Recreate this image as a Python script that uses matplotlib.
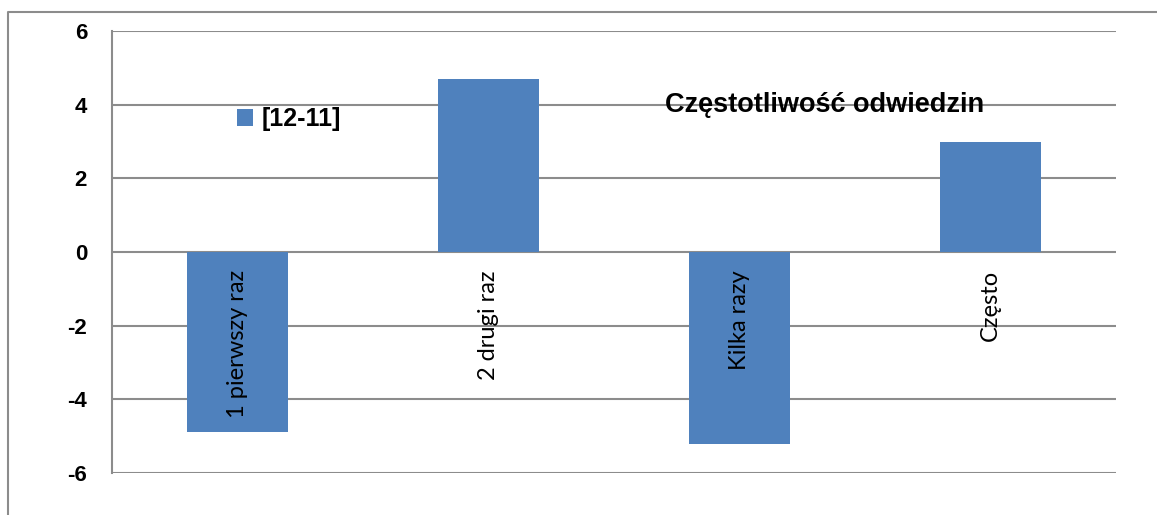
import matplotlib
matplotlib.use('Agg')
import matplotlib.pyplot as plt
from matplotlib.lines import Line2D

plt.rcParams['font.family'] = ['Liberation Sans', 'DejaVu Sans']

# data
categories = ['1 pierwszy raz', '2 drugi raz', 'Kilka razy', 'Często']
values = [-4.9, 4.7, -5.2, 3.0]
series_name = '[12-11]'
title = 'Częstotliwość odwiedzin'
yticks = [-6, -4, -2, 0, 2, 4, 6]

bar_color = '#4F81BD'
grid_color = '#8C8C8C'

fig = plt.figure(figsize=(11.57, 5.15), dpi=100)
ax = fig.add_axes([112 / 1157, 1 - 473 / 515, 1004 / 1157, 442 / 515])

x = list(range(len(categories)))
ax.bar(x, values, width=0.4, color=bar_color, label=series_name, zorder=2)

ax.set_xlim(-0.5, len(categories) - 0.5)
ax.set_ylim(-6, 6)
ax.set_yticks(yticks)
ax.set_yticklabels([str(v) for v in yticks], fontsize=16, fontweight='bold')
ax.tick_params(axis='y', length=0, pad=18)
ax.set_xticks([])
ax.yaxis.grid(True, color=grid_color, linewidth=1.5, zorder=0)

for s in ['top', 'right', 'bottom']:
    ax.spines[s].set_visible(False)
ax.spines['left'].set_color(grid_color)
ax.spines['left'].set_linewidth(1.5)

# category labels inside the bars, just under zero
for xi, name in zip(x, categories):
    ax.annotate(name, (xi, 0), xytext=(0, -13), textcoords='offset points',
                rotation=90, ha='center', va='top', fontsize=17,
                family=['Lato', 'DejaVu Sans'], zorder=3)

ax.text(0.71, 0.833, title, transform=ax.transAxes, ha='center', va='center',
        fontsize=19.5, fontweight='bold', zorder=3)

ax.legend(loc='center left', bbox_to_anchor=(219 / 1157, 1 - 119 / 515),
          bbox_transform=fig.transFigure, frameon=False, handlelength=0.65,
          handleheight=0.65, handletextpad=0.35, borderpad=0.2,
          prop={'size': 18, 'weight': 'bold'})

# outer frame of the chart area
fig.add_artist(Line2D([8 / 1157, 8 / 1157, 1], [0, 1 - 12 / 515, 1 - 12 / 515],
                      transform=fig.transFigure, color=grid_color, linewidth=1.5))

fig.savefig('out.png', dpi=100)
